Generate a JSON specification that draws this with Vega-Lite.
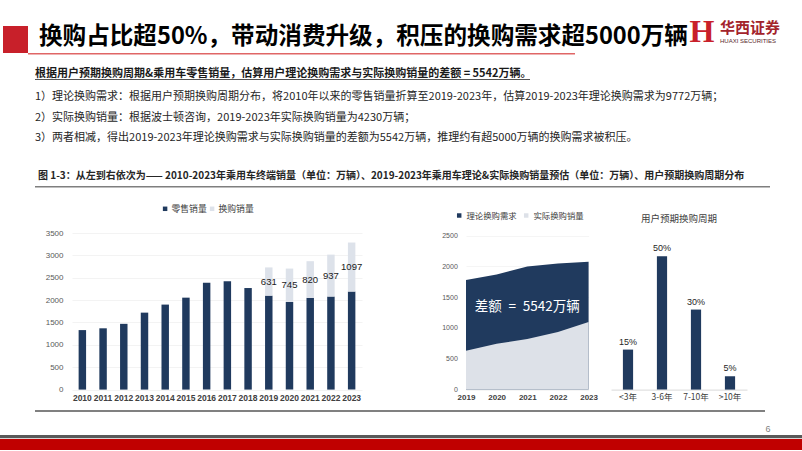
{
"$schema": "https://vega.github.io/schema/vega-lite/v6.json",
"background": "#ffffff",
"padding": 0,
"spacing": 0,
"bounds": "full",
"config": {"view": {"stroke": null}, "font": "Noto Sans CJK SC"},
"vconcat": [
  {"width": 802, "height": 14.5, "data": {"values": []}, "mark": "text"},
  {"hconcat": [
    {"width": 3, "height": 1, "data": {"values": []}, "mark": "text"},
    {"width": 25, "height": 27, "view": {"fill": "#c8202a", "stroke": null}, "data": {"values": []}, "mark": "text"},
    {"width": 11, "height": 1, "data": {"values": []}, "mark": "text"},
    {"width": 651, "height": 27,
     "data": {"values": [{"k": "a", "t": "换购占比超50%，带动消费升级，积压的换购需求超5000万辆"}]},
     "mark": {"type": "text", "align": "left", "baseline": "middle", "dy": -2.5, "fontSize": 23.6, "fontWeight": "bold", "font": "Noto Sans CJK SC", "color": "#000000"},
     "encoding": {"x": {"field": "k", "type": "nominal", "axis": null, "scale": {"type": "point", "padding": 0, "align": 0}}, "text": {"field": "t"}}},
    {"width": 24, "height": 27, "data": {"values": [{"t": "H"}]},
     "mark": {"type": "text", "baseline": "middle", "dy": -8, "fontSize": 32, "fontWeight": "bold", "font": "Liberation Serif", "color": "#c8202a"},
     "encoding": {"text": {"field": "t"}}},
    {"width": 6, "height": 1, "data": {"values": []}, "mark": "text"},
    {"width": 82, "height": 27, "layer": [
      {"data": {"values": [{"k": "a", "t": "华西证券"}]},
       "mark": {"type": "text", "align": "left", "baseline": "middle", "dy": -11.5, "fontSize": 15, "font": "Noto Sans CJK SC", "fontWeight": "bold", "color": "#a3232b"},
       "encoding": {"x": {"field": "k", "type": "nominal", "axis": null, "scale": {"type": "point", "padding": 0, "align": 0}}, "text": {"field": "t"}}},
      {"data": {"values": [{"k": "a", "t": "HUAXI SECURITIES"}]},
       "mark": {"type": "text", "align": "left", "baseline": "middle", "dy": 1, "fontSize": 6, "font": "Liberation Sans", "color": "#5a2a2c"},
       "encoding": {"x": {"field": "k", "type": "nominal", "axis": null, "scale": {"type": "point", "padding": 0, "align": 0}}, "text": {"field": "t"}}}
    ]}
  ], "spacing": 0, "bounds": "flush"},
  {"hconcat": [
    {"width": 28, "height": 1, "data": {"values": []}, "mark": "text"},
    {"width": 547, "height": 1.5, "view": {"fill": "#e06666", "stroke": null}, "data": {"values": []}, "mark": "text"}
  ], "spacing": 0, "bounds": "flush"},
  {"hconcat": [
    {"width": 35, "height": 1, "data": {"values": []}, "mark": "text"},
    {"vconcat": [
      {"width": 1, "height": 11.5, "data": {"values": []}, "mark": "text"},
      {"width": 500, "height": 11,
       "data": {"values": [{"k": "a", "t": "根据用户预期换购周期&乘用车零售销量，估算用户理论换购需求与实际换购销量的差额 = 5542万辆。"}]},
       "mark": {"type": "text", "align": "left", "baseline": "middle", "fontSize": 11, "fontWeight": "bold", "color": "#1a1a1a"},
       "encoding": {"x": {"field": "k", "type": "nominal", "axis": null, "scale": {"type": "point", "padding": 0, "align": 0}}, "text": {"field": "t"}}},
      {"width": 495, "height": 0.8, "view": {"fill": "#1a1a1a", "stroke": null}, "data": {"values": []}, "mark": "text"},
      {"width": 1, "height": 6.55, "data": {"values": []}, "mark": "text"},
      {"width": 730, "height": 61.5,
       "data": {"values": [
         {"k": "a", "n": 1, "t": "1）理论换购需求：根据用户预期换购周期分布，将2010年以来的零售销量折算至2019-2023年，估算2019-2023年理论换购需求为9772万辆；"},
         {"k": "a", "n": 2, "t": "2）实际换购销量：根据波士顿咨询，2019-2023年实际换购销量为4230万辆；"},
         {"k": "a", "n": 3, "t": "3）两者相减，得出2019-2023年理论换购需求与实际换购销量的差额为5542万辆，推理约有超5000万辆的换购需求被积压。"}
       ]},
       "mark": {"type": "text", "align": "left", "baseline": "middle", "fontSize": 11, "color": "#262626"},
       "encoding": {
         "x": {"field": "k", "type": "nominal", "axis": null, "scale": {"type": "point", "padding": 0, "align": 0}},
         "y": {"field": "n", "type": "ordinal", "axis": null},
         "text": {"field": "t"}}},
      {"width": 1, "height": 20.65, "data": {"values": []}, "mark": "text"},
      {"width": 735, "height": 12,
       "data": {"values": [{"k": "a", "t": "图 1-3：从左到右依次为—— 2010-2023年乘用车终端销量（单位：万辆）、2019-2023年乘用车理论&实际换购销量预估（单位：万辆）、用户预期换购周期分布"}]},
       "mark": {"type": "text", "align": "left", "baseline": "middle", "dx": 3, "fontSize": 10, "fontWeight": "bold", "color": "#262626"},
       "encoding": {"x": {"field": "k", "type": "nominal", "axis": null, "scale": {"type": "point", "padding": 0, "align": 0}}, "text": {"field": "t"}}},
      {"width": 1, "height": 3.8, "data": {"values": []}, "mark": "text"},
      {"width": 735, "height": 1.5, "view": {"fill": "#7f7f7f", "stroke": null}, "data": {"values": []}, "mark": "text"},
      {"width": 1, "height": 15.4, "data": {"values": []}, "mark": "text"},
      {"hconcat": [
        {"width": 37, "height": 1, "data": {"values": []}, "mark": "text"},
        {"width": 290, "height": 156.6,
         "data": {"values": [
           {"year": 2010, "type": "零售销量", "value": 1330},
           {"year": 2011, "type": "零售销量", "value": 1370},
           {"year": 2012, "type": "零售销量", "value": 1470},
           {"year": 2013, "type": "零售销量", "value": 1720},
           {"year": 2014, "type": "零售销量", "value": 1900},
           {"year": 2015, "type": "零售销量", "value": 2055},
           {"year": 2016, "type": "零售销量", "value": 2390},
           {"year": 2017, "type": "零售销量", "value": 2420},
           {"year": 2018, "type": "零售销量", "value": 2270},
           {"year": 2019, "type": "零售销量", "value": 2100},
           {"year": 2020, "type": "零售销量", "value": 1960},
           {"year": 2021, "type": "零售销量", "value": 2050},
           {"year": 2022, "type": "零售销量", "value": 2080},
           {"year": 2023, "type": "零售销量", "value": 2190},
           {"year": 2019, "type": "换购销量", "value": 631},
           {"year": 2020, "type": "换购销量", "value": 745},
           {"year": 2021, "type": "换购销量", "value": 820},
           {"year": 2022, "type": "换购销量", "value": 937},
           {"year": 2023, "type": "换购销量", "value": 1097}
         ]},
         "encoding": {
           "x": {"field": "year", "type": "ordinal", "scale": {"paddingInner": 0.64, "paddingOuter": 0.32},
                 "axis": {"title": null, "labelAngle": 0, "domain": false, "ticks": false, "labelFont": "Liberation Sans Narrow, Liberation Sans", "labelFontSize": 8.5, "labelFontWeight": "bold", "labelColor": "#404040", "labelPadding": 4}}
         },
         "layer": [
           {"mark": {"type": "bar"},
            "encoding": {
              "y": {"field": "value", "type": "quantitative", "stack": "zero", "scale": {"domain": [0, 3500], "nice": false},
                    "axis": {"title": null, "values": [0, 500, 1000, 1500, 2000, 2500, 3000, 3500], "tickCount": 8, "format": "d", "labelOverlap": false, "domain": false, "ticks": false, "labelFont": "Liberation Sans Narrow, Liberation Sans", "labelFontSize": 8, "labelColor": "#595959", "labelPadding": 9, "gridColor": "#eeeeee", "gridWidth": 0.7}},
              "color": {"field": "type", "type": "nominal", "sort": ["零售销量", "换购销量"],
                        "scale": {"domain": ["零售销量", "换购销量"], "range": ["#203a5e", "#dde2ea"]},
                        "legend": {"orient": "none", "legendX": 88.7, "legendY": -29, "direction": "horizontal", "title": null, "symbolType": "square", "symbolSize": 20, "symbolStrokeWidth": 0, "labelFont": "Noto Sans CJK SC", "labelFontSize": 8.8, "labelColor": "#404040", "labelOffset": 2, "columnPadding": 1, "padding": 0}},
              "order": {"field": "type", "type": "nominal", "sort": "descending"}
            }},
           {"transform": [
              {"stack": "value", "groupby": ["year"], "sort": [{"field": "type", "order": "descending"}], "as": ["v0", "v1"]},
              {"filter": "datum.type === '换购销量'"},
              {"fold": ["v0", "v1"], "as": ["edge", "ev"]},
              {"aggregate": [{"op": "mean", "field": "ev", "as": "mid"}, {"op": "max", "field": "value", "as": "label"}], "groupby": ["year"]}
            ],
            "mark": {"type": "text", "baseline": "middle", "fontSize": 9.5, "color": "#1a1a1a", "font": "Liberation Sans Narrow, Liberation Sans"},
            "encoding": {
              "y": {"field": "mid", "type": "quantitative",
                    "axis": {"title": null, "values": [0, 500, 1000, 1500, 2000, 2500, 3000, 3500], "tickCount": 8, "format": "d", "labelOverlap": false, "domain": false, "ticks": false, "labelFont": "Liberation Sans Narrow, Liberation Sans", "labelFontSize": 8, "labelColor": "#595959", "labelPadding": 9, "gridColor": "#eeeeee", "gridWidth": 0.7}},
              "text": {"field": "label", "type": "quantitative", "format": "d"}}}
         ]},
        {"width": 103.7, "height": 1, "data": {"values": []}, "mark": "text"},
        {"width": 122.6, "height": 156.6,
         "data": {"values": [
           {"year": 2019, "series": "理论换购需求", "value": 1780},
           {"year": 2020, "series": "理论换购需求", "value": 1870},
           {"year": 2021, "series": "理论换购需求", "value": 2000},
           {"year": 2022, "series": "理论换购需求", "value": 2045},
           {"year": 2023, "series": "理论换购需求", "value": 2077},
           {"year": 2019, "series": "实际换购销量", "value": 631},
           {"year": 2020, "series": "实际换购销量", "value": 745},
           {"year": 2021, "series": "实际换购销量", "value": 820},
           {"year": 2022, "series": "实际换购销量", "value": 937},
           {"year": 2023, "series": "实际换购销量", "value": 1097}
         ]},
         "encoding": {
           "x": {"field": "year", "type": "ordinal", "scale": {"type": "point", "padding": 0},
                 "axis": {"title": null, "labelAngle": 0, "domain": false, "ticks": false, "labelFont": "Liberation Sans Narrow, Liberation Sans", "labelFontSize": 8, "labelFontWeight": "bold", "labelColor": "#404040", "labelPadding": 4}},
           "y": {"field": "value", "type": "quantitative", "stack": null, "scale": {"domain": [0, 2542], "nice": false},
                 "axis": {"title": null, "values": [0, 500, 1000, 1500, 2000, 2500], "tickCount": 6, "format": "d", "labelOverlap": false, "domain": false, "ticks": false, "labelFont": "Liberation Sans Narrow, Liberation Sans", "labelFontSize": 7, "labelColor": "#595959", "labelPadding": 8.7, "gridColor": "#f0f0f0", "gridWidth": 0.7}}
         },
         "layer": [
           {"transform": [{"filter": "datum.series === '理论换购需求'"}],
            "mark": {"type": "area", "opacity": 1},
            "encoding": {
              "color": {"field": "series", "type": "nominal",
                        "scale": {"domain": ["理论换购需求", "实际换购销量"], "range": ["#203a5e", "#dde1e8"]},
                        "legend": {"orient": "none", "legendX": -11, "legendY": -21.9, "direction": "horizontal", "title": null, "symbolType": "square", "symbolSize": 20, "symbolStrokeWidth": 0, "labelFont": "Noto Sans CJK SC", "labelFontSize": 8.4, "labelColor": "#404040", "labelOffset": 3, "columnPadding": 5, "padding": 0}}
            }},
           {"transform": [{"filter": "datum.series === '实际换购销量'"}],
            "mark": {"type": "area", "opacity": 1},
            "encoding": {
              "color": {"field": "series", "type": "nominal"}
            }},
           {"transform": [{"filter": "datum.year === 2021"}, {"aggregate": [{"op": "mean", "field": "value", "as": "value"}], "groupby": ["year"]}],
            "mark": {"type": "text", "baseline": "middle", "dy": 4.6, "fontSize": 13.5, "color": "#ffffff", "font": "Noto Sans CJK SC"},
            "encoding": {
              "text": {"value": "差额\u2002=\u20025542万辆"}
            }}
         ]},
        {"width": 21.7, "height": 1, "data": {"values": []}, "mark": "text"},
        {"width": 136, "height": 156.6,
         "title": {"text": "用户预期换购周期", "fontSize": 9.5, "font": "Noto Sans CJK SC", "fontWeight": "normal", "color": "#404040", "anchor": "middle", "baseline": "middle", "offset": 10.7, "dy": 6},
         "data": {"values": [
           {"period": "<3年", "share": 0.15},
           {"period": "3-6年", "share": 0.50},
           {"period": "7-10年", "share": 0.30},
           {"period": ">10年", "share": 0.05}
         ]},
         "encoding": {
           "x": {"field": "period", "type": "nominal", "sort": ["<3年", "3-6年", "7-10年", ">10年"], "scale": {"paddingInner": 0.7, "paddingOuter": 0.35},
                 "axis": {"title": null, "labelAngle": 0, "domainColor": "#d9d9d9", "domainWidth": 1, "ticks": false, "labelFont": "Noto Sans CJK SC", "labelFontSize": 8.5, "labelColor": "#404040", "labelPadding": 2.5}},
           "y": {"field": "share", "type": "quantitative", "scale": {"domain": [0, 0.587], "nice": false}, "axis": null}
         },
         "layer": [
           {"mark": {"type": "bar", "color": "#203a5e"}},
           {"mark": {"type": "text", "baseline": "bottom", "dy": -3, "fontSize": 9, "color": "#262626", "font": "Liberation Sans Narrow, Liberation Sans"},
            "encoding": {"text": {"field": "share", "type": "quantitative", "format": ".0%"}}}
         ]}
      ], "spacing": 0, "bounds": "flush",
      "resolve": {"scale": {"color": "independent"}, "legend": {"color": "independent"}}},
      {"width": 1, "height": 6.2, "data": {"values": []}, "mark": "text"},
      {"width": 730, "height": 2, "view": {"fill": "#808080", "stroke": null}, "data": {"values": []}, "mark": "text"}
    ], "spacing": 0, "bounds": "full"}
  ], "spacing": 0, "bounds": "flush"},
  {"hconcat": [
    {"width": 763, "height": 1, "data": {"values": []}, "mark": "text"},
    {"width": 10, "height": 22.2, "data": {"values": [{"t": "6"}]},
     "mark": {"type": "text", "baseline": "middle", "dy": 5.5, "fontSize": 9, "color": "#7f7f7f", "font": "Liberation Sans"},
     "encoding": {"text": {"field": "t"}}}
  ], "spacing": 0, "bounds": "flush"},
  {"width": 802, "height": 3.3, "view": {"fill": "#595959", "stroke": null}, "data": {"values": []}, "mark": "text"},
  {"width": 802, "height": 11, "view": {"fill": "#c00000", "stroke": null}, "data": {"values": []}, "mark": "text"}
]
}
